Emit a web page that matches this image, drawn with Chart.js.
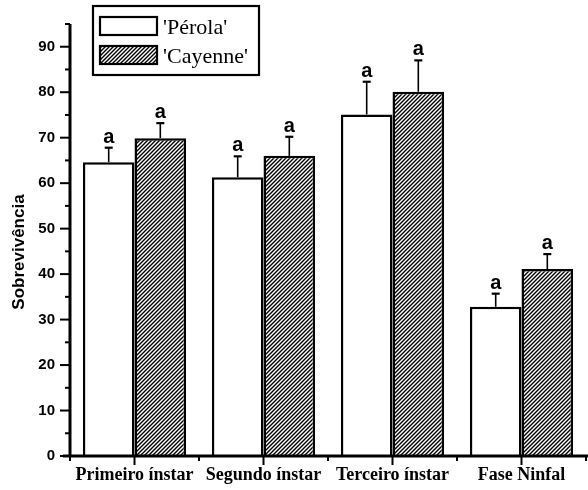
<!DOCTYPE html>
<html><head><meta charset="utf-8">
<script src="https://cdn.jsdelivr.net/npm/chart.js@4"></script>
<style>html,body{margin:0;padding:0;background:#fff}#wrap{width:588px;height:490px}</style>
</head><body><div id="wrap"><canvas id="c" width="588" height="490"></canvas></div>
<script>
const categories = ['Primeiro ínstar', 'Segundo ínstar', 'Terceiro ínstar', 'Fase Ninfal'];
const seriesNames = ["'Pérola'", "'Cayenne'"];
const perola = [64.6, 61.3, 75.1, 32.8];
const perolaErr = [3.2, 4.6, 7.2, 2.9];
const cayenne = [69.9, 66.0, 80.1, 41.1];
const cayenneErr = [3.3, 4.2, 6.9, 3.3];
const perolaLetters = ['a', 'a', 'a', 'a'];
const cayenneLetters = ['a', 'a', 'a', 'a'];
const yAxisTitle = 'Sobrevivência';
const yMin = 0, yMax = 95, yStep = 5, yLabelStep = 10;

function hatch() {
  const s = 4;
  const c = document.createElement('canvas');
  c.width = s; c.height = s;
  const g = c.getContext('2d');
  g.fillStyle = '#fff'; g.fillRect(0, 0, s, s);
  g.strokeStyle = '#000'; g.lineWidth = 1.4;
  g.beginPath();
  g.moveTo(0, s); g.lineTo(s, 0);
  g.moveTo(-1, 1); g.lineTo(1, -1);
  g.moveTo(s - 1, s + 1); g.lineTo(s + 1, s - 1);
  g.stroke();
  return g.createPattern(c, 'repeat');
}

const deco = {
  id: 'deco',
  afterDatasetsDraw(chart) {
    const ctx = chart.ctx, xs = chart.scales.x, ys = chart.scales.y, a = chart.chartArea;
    ctx.save();
    ctx.strokeStyle = '#000'; ctx.fillStyle = '#000';
    chart.data.datasets.forEach((ds, di) => {
      const meta = chart.getDatasetMeta(di);
      meta.data.forEach((bar, i) => {
        const v = ds.data[i], e = ds.errors[i];
        const top = ys.getPixelForValue(v + e), base = ys.getPixelForValue(v);
        ctx.lineWidth = 1.6;
        ctx.beginPath(); ctx.moveTo(bar.x, base); ctx.lineTo(bar.x, top); ctx.stroke();
        ctx.lineWidth = 2.2;
        ctx.beginPath(); ctx.moveTo(bar.x - 4, top); ctx.lineTo(bar.x + 4, top); ctx.stroke();
        ctx.font = 'bold 20px "Liberation Sans"';
        ctx.textAlign = 'center'; ctx.textBaseline = 'alphabetic';
        ctx.fillText(ds.letters[i], bar.x, top - 5);
      });
    });
    ctx.lineWidth = 3;
    ctx.beginPath(); ctx.moveTo(a.left, a.top); ctx.lineTo(a.left, a.bottom + 1); ctx.stroke();
    ctx.beginPath(); ctx.moveTo(a.left - 7, a.bottom); ctx.lineTo(a.right + 2, a.bottom); ctx.stroke();
    ctx.lineWidth = 2;
    ys.ticks.forEach(t => {
      const py = ys.getPixelForValue(t.value);
      const len = (t.value % yLabelStep === 0) ? 10 : 5;
      ctx.beginPath(); ctx.moveTo(a.left - len, py); ctx.lineTo(a.left, py); ctx.stroke();
    });
    for (let i = 0; i < categories.length; i++) {
      const px = xs.getPixelForValue(i);
      ctx.beginPath(); ctx.moveTo(px, a.bottom); ctx.lineTo(px, a.bottom + 9); ctx.stroke();
    }
    for (let i = 0; i <= categories.length; i++) {
      const px = xs.getPixelForValue(i - 0.5);
      ctx.beginPath(); ctx.moveTo(px, a.bottom); ctx.lineTo(px, a.bottom + 5); ctx.stroke();
    }
    ctx.save();
    ctx.translate(19, 252);
    ctx.rotate(-Math.PI / 2);
    ctx.font = 'bold 17px "Liberation Sans"';
    ctx.textAlign = 'center'; ctx.textBaseline = 'middle';
    ctx.fillText(yAxisTitle, 0, 0);
    ctx.restore();
    ctx.lineWidth = 2.2;
    ctx.strokeRect(93, 6, 166, 69);
    const rows = [[17, 35], [46, 64]];
    chart.data.datasets.forEach((ds, di) => {
      const [y0, y1] = rows[di];
      ctx.fillStyle = ds.backgroundColor;
      ctx.fillRect(100, y0, 57, y1 - y0);
      ctx.strokeRect(100, y0, 57, y1 - y0);
      ctx.fillStyle = '#000';
      ctx.font = '22px "Liberation Serif"';
      ctx.textAlign = 'left'; ctx.textBaseline = 'alphabetic';
      ctx.fillText(ds.label, 163, y1 - 1);
    });
    ctx.restore();
  }
};

new Chart(document.getElementById('c'), {
  type: 'bar',
  data: {
    labels: categories,
    datasets: [
      { label: seriesNames[0], data: perola, errors: perolaErr, letters: perolaLetters,
        backgroundColor: '#ffffff', borderColor: '#000', borderWidth: 2.5 },
      { label: seriesNames[1], data: cayenne, errors: cayenneErr, letters: cayenneLetters,
        backgroundColor: hatch(), borderColor: '#000', borderWidth: 2.5 }
    ]
  },
  options: {
    responsive: false,
    animation: false,
    devicePixelRatio: 1,
    layout: { padding: { left: 0, top: 22, right: 2, bottom: 0 } },
    plugins: { legend: { display: false }, tooltip: { enabled: false } },
    datasets: { bar: { categoryPercentage: 0.8, barPercentage: 1.0 } },
    scales: {
      x: {
        grid: { display: false, drawTicks: false },
        border: { display: false },
        ticks: { color: '#000', padding: 9, font: { family: '"Liberation Serif"', size: 18, weight: 'bold' } },
        afterFit(s) { s.height = 34; }
      },
      y: {
        min: yMin, max: yMax,
        grid: { display: false, drawTicks: false },
        border: { display: false },
        ticks: {
          stepSize: yStep, color: '#000', padding: 15,
          font: { family: '"Liberation Sans"', size: 15, weight: 'bold' },
          callback: v => (v % yLabelStep === 0 ? String(v) : '')
        },
        afterFit(s) { s.width = 70; }
      }
    }
  },
  plugins: [deco]
});
</script>
</body></html>
